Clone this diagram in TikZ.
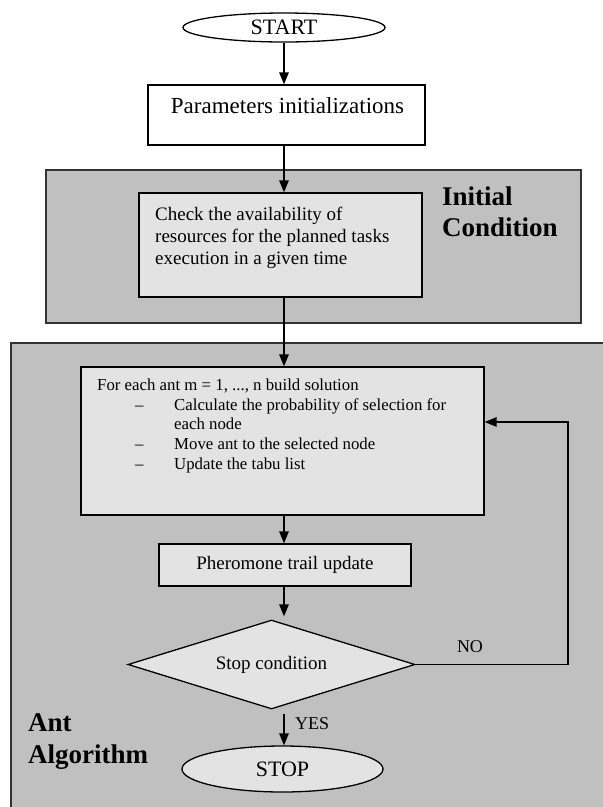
\documentclass[tikz,border=0pt]{standalone}
\usepackage{fontspec}
\setmainfont{Liberation Serif}
\usetikzlibrary{shapes.geometric,arrows.meta}
\definecolor{regiongray}{HTML}{C0C0C0}
\definecolor{boxgray}{HTML}{E3E3E3}
\definecolor{edgegray}{HTML}{333333}
\begin{document}
\begin{tikzpicture}[x=1pt,y=-1pt,
  flow/.style={line width=1.4pt, -{Triangle[length=12pt,width=9.5pt]}},
  box/.style={draw, line width=1.3pt, inner sep=0pt, rectangle},
  region/.style={draw=edgegray, line width=1.6pt, fill=regiongray, inner sep=0pt},
  body/.style={font=\fontsize{19}{22}\selectfont},
  small/.style={font=\fontsize{18}{21}\selectfont, inner sep=0pt},
  title/.style={font=\fontsize{27}{31.5}\selectfont\bfseries, align=left, inner sep=0pt, anchor=north west},
  oval/.style={ellipse, draw, line width=1.3pt, inner sep=0pt, font=\fontsize{22}{26}\selectfont},
]
\useasboundingbox (0,0) rectangle (603,807);
\fill[white] (0,0) rectangle (603,807);
% Ant Algorithm region (extends past the right and bottom edges)
\fill[regiongray] (11,343) rectangle (606,810);
\draw[edgegray, line width=1.6pt] (11,810) -- (11,343) -- (606,343);
% Initial Condition region
\node[region, minimum width=535pt, minimum height=153pt] (icreg) at (313.5,246.5) {};

\coordinate (axis) at (284,0);
\coordinate (loop) at (568,422);

\node[oval, fill=white, minimum width=202pt, minimum height=29pt] (start) at (284,27.5) {START};

\node[box, fill=white, minimum width=277pt, minimum height=60pt] (param) at (286.5,115) {};
\node[font=\fontsize{23}{26}\selectfont, anchor=base, inner sep=0pt] (paramtext) at (287.5,113) {Parameters initializations};

\node[box, fill=boxgray, minimum width=283pt, minimum height=104pt] (check) at (280.5,245) {};
\node[body, align=left, anchor=north west, inner sep=0pt] (checktext) at (155,207) {Check the availability of\\resources for the planned tasks\\execution in a given time};

\node[title] (ictitle) at (442,186.5) {Initial\\Condition};

\node[box, fill=boxgray, minimum width=403pt, minimum height=148pt] (foreach) at (282.5,441) {};
\node[align=left, anchor=north west, inner sep=0pt, font=\fontsize{16.8}{19.7}\selectfont] (foreachtext) at (97,378.7) {For each ant m = 1, ..., n build solution\\
\hspace*{38pt}\makebox[39pt][l]{–}Calculate the probability of selection for\\
\hspace*{77pt}each node\\
\hspace*{38pt}\makebox[39pt][l]{–}Move ant to the selected node\\
\hspace*{38pt}\makebox[39pt][l]{–}Update the tabu list};

\node[box, fill=boxgray, minimum width=252pt, minimum height=42pt, body] (pher) at (285,565) {Pheromone trail update};

\node[diamond, draw, line width=1.3pt, fill=boxgray, aspect=3.22, minimum width=287pt, minimum height=89pt, inner sep=0pt, body] (diam) at (271.5,664.5) {Stop condition};

\node[oval, fill=boxgray, minimum width=201pt, minimum height=46pt] (stop) at (282.5,769) {STOP};

\node[title] (anttitle) at (28,713.8) {Ant\\Algorithm};

% connectors
\draw[flow] (start.south) -- (axis |- param.north);
\draw[flow] (axis |- param.south) -- (axis |- check.north);
\draw[flow] (axis |- check.south) -- (axis |- foreach.north);
\draw[flow] (axis |- foreach.south) -- (axis |- pher.north);
\draw[flow] (axis |- pher.south) -- ([yshift=3pt]axis |- diam.north);
\draw[flow] (diam.east) -- (diam.east -| loop) -- (loop) -- (loop -| foreach.east);
\node[small] (no) at (470,647) {NO};
\draw[flow] ([yshift=-4pt]axis |- diam.south) -- (axis |- stop.north);
\node[small, anchor=west] (yes) at (295,724) {YES};
\end{tikzpicture}
\end{document}
